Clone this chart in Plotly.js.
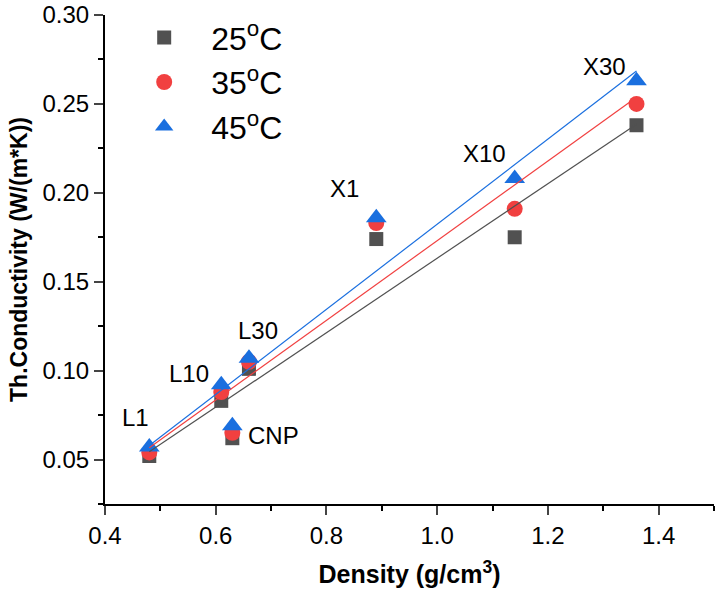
<!DOCTYPE html>
<html><head><meta charset="utf-8">
<script src="https://cdn.plot.ly/plotly-3.0.1.min.js"></script>
<style>html,body{margin:0;padding:0;background:#fff}#chart{width:716px;height:594px}</style>
</head><body><div id="chart"></div>
<script>
const samples = ["L1","L10","CNP","L30","X1","X10","X30"];
const density = [0.48, 0.61, 0.63, 0.66, 0.89, 1.14, 1.36];
const k25 = [0.052, 0.083, 0.062, 0.101, 0.174, 0.175, 0.238];
const k35 = [0.054, 0.088, 0.065, 0.105, 0.183, 0.191, 0.250];
const k45 = [0.057, 0.092, 0.069, 0.107, 0.186, 0.208, 0.263];
const seriesNames = ["25<sup>o</sup>C","35<sup>o</sup>C","45<sup>o</sup>C"];
const labelX = [0.455, 0.552, 0.704, 0.676, 0.832, 1.085, 1.302];
const labelY = [0.0736, 0.0982, 0.0637, 0.1228, 0.2024, 0.2222, 0.2713];

const colors = ["#515151","#F14040","#1A6FDF"];
const symbols = ["square","circle","triangle-up"];
const sizes = [14,16,18];
const allY = [k25,k35,k45];

function fit(x,y){
  const n=x.length; let mx=0,my=0; for(let i=0;i<n;i++){mx+=x[i];my+=y[i];} mx/=n; my/=n;
  let sxy=0,sxx=0; for(let i=0;i<n;i++){sxy+=(x[i]-mx)*(y[i]-my); sxx+=(x[i]-mx)**2;}
  const b=sxy/sxx, a=my-b*mx; return [a,b];
}
const xmin=Math.min(...density), xmax=Math.max(...density);
const traces=[];
allY.forEach((ys,i)=>{
  traces.push({x:density,y:ys,type:'scatter',mode:'markers',name:seriesNames[i],
    marker:{symbol:symbols[i],size:sizes[i],color:colors[i],line:{width:0}}});
});
allY.forEach((ys,i)=>{
  const [a,b]=fit(density,ys);
  traces.push({x:[xmin,xmax],y:[a+b*xmin,a+b*xmax],type:'scatter',mode:'lines',showlegend:false,
    line:{color:colors[i],width:1.2}, hoverinfo:'skip'});
});
const annotations = samples.map((s,i)=>({x:labelX[i],y:labelY[i],xref:'x',yref:'y',text:s,showarrow:false,
  font:{family:'Liberation Sans, Arial, sans-serif',size:24,color:'#000'}}));

const layout={
  width:716,height:594,
  margin:{l:105,r:2,t:15,b:90},
  paper_bgcolor:'#fff',plot_bgcolor:'#fff',
  font:{family:'Liberation Sans, Arial, sans-serif',color:'#000'},
  showlegend:true,
  legend:{x:0.02,y:1.01,xanchor:'left',yanchor:'top',font:{size:32},itemwidth:84,bgcolor:'rgba(0,0,0,0)',tracegroupgap:0},
  xaxis:{range:[0.4,1.5],tick0:0.4,dtick:0.2,tickformat:'.1f',ticks:'outside',ticklen:9,tickwidth:2,
    showline:true,linewidth:2,linecolor:'#000',showgrid:false,zeroline:false,
    minor:{dtick:0.1,ticks:'outside',ticklen:5,tickwidth:2,tickcolor:'#000',showgrid:false},
    tickfont:{size:24},
    title:{text:'<b>Density (g/cm<sup>3</sup>)</b>',font:{size:25},standoff:18}},
  yaxis:{range:[0.025,0.30],tick0:0,dtick:0.05,tickformat:'.2f',ticks:'outside',ticklen:9,tickwidth:2,
    showline:true,linewidth:2,linecolor:'#000',showgrid:false,zeroline:false,
    minor:{dtick:0.025,ticks:'outside',ticklen:5,tickwidth:2,tickcolor:'#000',showgrid:false},
    tickfont:{size:24},
    title:{text:'<b>Th.Conductivity (W/(m*K))</b>',font:{size:23},standoff:8}},
  annotations:annotations
};
Plotly.newPlot('chart',traces,layout,{displayModeBar:false,staticPlot:true});
</script></body></html>
